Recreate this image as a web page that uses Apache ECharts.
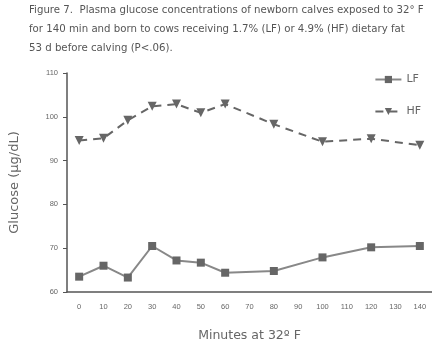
<!DOCTYPE html>
<html>
<head>
<meta charset="utf-8">
<script src="https://cdn.jsdelivr.net/npm/echarts@6/dist/echarts.min.js"></script>
<style>
  html, body { margin: 0; padding: 0; background: #fff; }
  #chart { width: 432px; height: 347px; }
</style>
</head>
<body>
<div id="chart"></div>
<script>
// 数据
var minutes = ['0', '10', '20', '30', '40', '50', '60', '70', '80', '90', '100', '110', '120', '130', '140'];
var lfValues = [63.5, 66, 63.3, 70.5, 67.2, 66.7, 64.4, null, 64.8, null, 67.9, null, 70.2, null, 70.5];
var hfValues = [94.6, 95.1, 99.2, 102.4, 102.9, 100.9, 102.9, null, 98.3, null, 94.3, null, 95, null, 93.5];
var yTicks = [60, 70, 80, 90, 100, 110];

var titleText = 'Figure 7.  Plasma glucose concentrations of newborn calves exposed to 32\u00b0 F\n' +
  'for 140 min and born to cows receiving 1.7% (LF) or 4.9% (HF) dietary fat\n' +
  '53 d before calving (P<.06).';

function renderChart() {
  var myChart = echarts.init(document.getElementById('chart'));
  var ink = '#555';
  var options = {
    backgroundColor: '#fff',
    animation: false,
    title: {
      text: titleText,
      left: 29,
      top: 1,
      padding: 0,
      textStyle: {
        fontFamily: 'DejaVu Sans',
        fontSize: 10.2,
        fontWeight: 'normal',
        color: '#555',
        lineHeight: 19
      }
    },
    legend: {
      orient: 'vertical',
      right: 6,
      top: 69,
      itemGap: 21,
      itemWidth: 26,
      itemHeight: 9,
      textStyle: { fontFamily: 'DejaVu Sans', fontSize: 11, color: '#666' },
      data: ['LF', 'HF']
    },
    grid: { left: 67, right: 0, top: 73, bottom: 49, containLabel: false },
    xAxis: {
      type: 'category',
      data: minutes,
      boundaryGap: true,
      name: 'Minutes at 32\u00ba F',
      nameLocation: 'middle',
      nameGap: 37,
      nameTextStyle: { fontFamily: 'DejaVu Sans', fontSize: 12.5, color: '#666' },
      axisLine: { lineStyle: { color: ink, width: 1.5 } },
      axisTick: { alignWithLabel: true, inside: true, length: 4, lineStyle: { color: ink } },
      axisLabel: { fontFamily: 'Liberation Sans', fontSize: 7.5, color: '#666', margin: 11, interval: 0 },
      splitLine: { show: false }
    },
    yAxis: {
      type: 'value',
      min: yTicks[0],
      max: yTicks[yTicks.length - 1],
      interval: 10,
      name: 'Glucose (\u00b5g/dL)',
      nameLocation: 'middle',
      nameGap: 46,
      nameTextStyle: { fontFamily: 'DejaVu Sans', fontSize: 13, color: '#666' },
      axisLine: { show: true, lineStyle: { color: ink, width: 1.5 } },
      axisTick: { show: true, length: 4, lineStyle: { color: ink } },
      axisLabel: { fontFamily: 'Liberation Sans', fontSize: 7.5, color: '#666', margin: 9 },
      splitLine: { show: false }
    },
    series: [{
      name: 'LF',
      type: 'line',
      data: lfValues,
      connectNulls: true,
      symbol: 'rect',
      symbolSize: 8,
      itemStyle: { color: '#666' },
      lineStyle: { color: '#888', width: 2 }
    }, {
      name: 'HF',
      type: 'line',
      data: hfValues,
      connectNulls: true,
      symbol: 'triangle',
      symbolRotate: 180,
      symbolSize: 9,
      itemStyle: { color: '#666' },
      lineStyle: { color: '#666', width: 2, type: [8, 6] }
    }]
  };
  myChart.setOption(options, true);
}

renderChart();
</script>
</body>
</html>
